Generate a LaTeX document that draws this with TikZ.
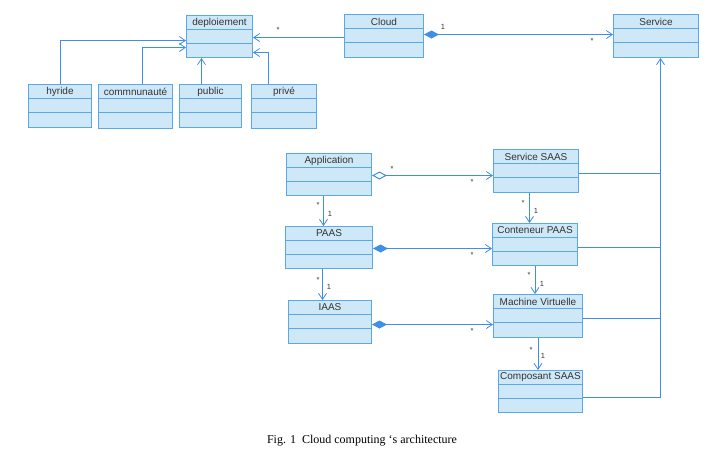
\documentclass[tikz,border=0pt]{standalone}
\usepackage{fontspec}
\setmainfont{Liberation Serif}
\setsansfont{Liberation Sans}
\usetikzlibrary{arrows.meta,calc}
\definecolor{boxfill}{HTML}{CFE8F8}
\definecolor{boxline}{HTML}{5BA8E8}
\definecolor{conn}{HTML}{3F8FE8}
\definecolor{txt}{HTML}{333333}
\tikzset{
  clsbox/.style={draw=boxline, fill=boxfill, line width=1pt, inner sep=0pt},
  clsrule/.style={draw=boxline, line width=0.8pt},
  clstitle/.style={font=\sffamily\fontsize{10}{11}\selectfont, text=txt, inner sep=0pt},
  assoc/.style={draw=conn, line width=1pt},
  barb/.style={-{Straight Barb[length=6pt,width=8pt,line width=0.8pt]}},
  fdiam/.style={{Diamond[length=15pt,width=8pt,fill=conn]}-{Straight Barb[length=6pt,width=8pt,line width=0.8pt]}},
  odiam/.style={{Diamond[open,length=15pt,width=8pt,fill=white]}-{Straight Barb[length=6pt,width=8pt,line width=0.8pt]}},
  mult/.style={font=\sffamily\fontsize{7.5}{8}\selectfont, text=txt, inner sep=0pt},
  captxt/.style={font=\fontsize{12}{14}\selectfont, text=black, inner sep=0pt}
}
\newcommand{\umlcls}[6]{%
  \node[clsbox, minimum width=#4pt, minimum height=#5pt, anchor=north west] (#1) at (#2,#3) {};
  \node[clstitle] (#1-t) at ($(#1.north)+(0,7.5)$) {#6};
  \draw[clsrule] ($(#1.north west)+(0,14.5)$) -- ($(#1.north east)+(0,14.5)$);
  \draw[clsrule] ($(#1.north west)+(0,28.5)$) -- ($(#1.north east)+(0,28.5)$);
}
\begin{document}
\begin{tikzpicture}[x=1pt,y=-1pt]
\useasboundingbox (0,0) rectangle (721,459);
\fill[white] (0,0) rectangle (721,459);

\umlcls{deploiement}{186}{15}{66}{42}{deploiement}
\umlcls{hyride}{28}{84}{63}{43}{hyride}
\umlcls{commun}{98}{84}{74}{44}{commnunauté}
\umlcls{public}{179}{84}{62}{43}{public}
\umlcls{prive}{251}{84}{65}{44}{privé}
\umlcls{cloud}{344}{14}{79}{43}{Cloud}
\umlcls{service}{613}{14}{85}{43}{Service}
\umlcls{app}{286}{153}{85}{42}{Application}
\umlcls{saas}{493}{149}{85}{43}{Service SAAS}
\umlcls{paas}{285}{226}{87}{42}{PAAS}
\umlcls{cont}{492}{223}{85}{42}{Conteneur PAAS}
\umlcls{iaas}{288}{300}{83}{43}{IAAS}
\umlcls{vm}{493}{294}{89}{43}{Machine Virtuelle}
\umlcls{comp}{498}{370}{84}{42}{Composant SAAS}

% deploiement generalisations
\draw[assoc, barb] (hyride.north) |- ([yshift=-4pt]deploiement.west);
\draw[assoc, barb] ([xshift=7pt]commun.north) |- ([yshift=-11pt]deploiement.west);
\draw[assoc, barb] ([xshift=-9pt]public.north) -- ([xshift=-9pt]public.north |- deploiement.south);
\draw[assoc, barb] ([xshift=-15.5pt]prive.north) |- ([yshift=-16pt]deploiement.east);

% Cloud associations
\draw[assoc, barb] ([yshift=-1.5pt]cloud.west) -- ([yshift=-1.5pt]cloud.west -| deploiement.east);
\draw[assoc, fdiam] ([yshift=1.5pt]cloud.east) -- ([yshift=1.5pt]cloud.east -| service.west);

% Service tree
\coordinate (bus) at ([xshift=4.5pt]service.south);
\draw[assoc, line width=1.5pt, barb] ([yshift=-2.5pt]vm.east) -| (bus);
\draw[assoc] ([yshift=-6pt]comp.east) -| ([yshift=-2.5pt]vm.east -| bus);
\draw[assoc] ([yshift=-2.5pt]saas.east) -- ([yshift=-2.5pt]saas.east -| bus);
\draw[assoc] ([yshift=-3pt]cont.east) -- ([yshift=-3pt]cont.east -| bus);

% horizontal aggregations / compositions
\draw[assoc, odiam] ([yshift=-1pt]app.east) -- ([yshift=-1pt]app.east -| saas.west);
\draw[assoc, fdiam] ([yshift=-1pt]paas.east) -- ([yshift=-1pt]paas.east -| cont.west);
\draw[assoc, fdiam] ([yshift=-2.5pt]iaas.east) -- ([yshift=-2.5pt]iaas.east -| vm.west);

% vertical associations
\draw[assoc, barb] ([xshift=-5.5pt]app.south) -- ([xshift=-5.5pt]app.south |- paas.north);
\draw[assoc, barb] ([xshift=-6.5pt]paas.south) -- ([xshift=-6.5pt]paas.south |- iaas.north);
\draw[assoc, barb] ([xshift=-6.5pt]saas.south) -- ([xshift=-6.5pt]saas.south |- cont.north);
\draw[assoc, barb] (cont.south) -- (cont.south |- vm.north);
\draw[assoc, barb] (vm.south) -- (vm.south |- comp.north);

% multiplicities
\node[mult] (m1) at (278,30) {*};
\node[mult] (m2) at (443,27) {1};
\node[mult] (m3) at (592,41) {*};
\node[mult] (m4) at (392,169) {*};
\node[mult] (m5) at (472,182) {*};
\node[mult] (m6) at (318,205) {*};
\node[mult] (m7) at (330,214) {1};
\node[mult] (m8) at (472,255) {*};
\node[mult] (m9) at (318,280) {*};
\node[mult] (m10) at (329,287) {1};
\node[mult] (m11) at (472,331) {*};
\node[mult] (m12) at (523,203) {*};
\node[mult] (m13) at (536,211) {1};
\node[mult] (m14) at (529,275) {*};
\node[mult] (m15) at (542,284) {1};
\node[mult] (m16) at (531,350) {*};
\node[mult] (m17) at (543,356) {1};

\node[captxt] (cap) at (362,441) {Fig. 1\ \ Cloud computing ‘s architecture};
\end{tikzpicture}
\end{document}
